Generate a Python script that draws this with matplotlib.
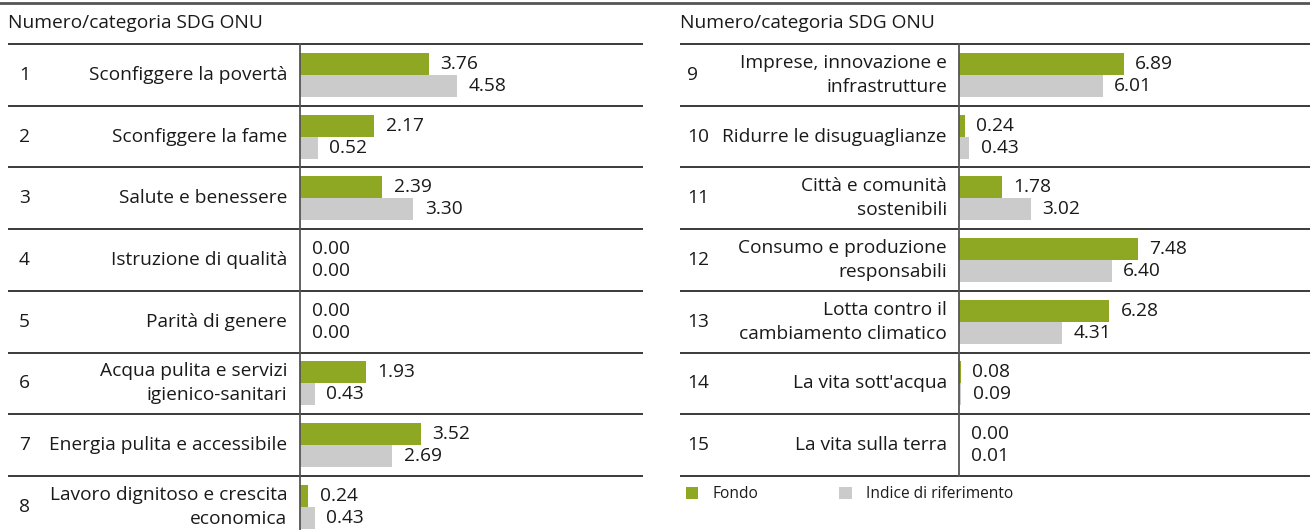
import numpy as np
import matplotlib
matplotlib.use('Agg')
import matplotlib.pyplot as plt
import matplotlib.transforms as mtransforms
from matplotlib.lines import Line2D
from matplotlib.patches import Patch

plt.rcParams['font.family'] = ['Open Sans', 'DejaVu Sans']

# data
left_nums = ['1', '2', '3', '4', '5', '6', '7', '8']
left_cats = ['Sconfiggere la povertà', 'Sconfiggere la fame', 'Salute e benessere',
             'Istruzione di qualità', 'Parità di genere',
             'Acqua pulita e servizi\nigienico-sanitari', 'Energia pulita e accessibile',
             'Lavoro dignitoso e crescita\neconomica']
left_fondo = [3.76, 2.17, 2.39, 0.00, 0.00, 1.93, 3.52, 0.24]
left_indice = [4.58, 0.52, 3.30, 0.00, 0.00, 0.43, 2.69, 0.43]

right_nums = ['9', '10', '11', '12', '13', '14', '15']
right_cats = ['Imprese, innovazione e\ninfrastrutture', 'Ridurre le disuguaglianze',
              'Città e comunità\nsostenibili', 'Consumo e produzione\nresponsabili',
              'Lotta contro il\ncambiamento climatico', "La vita sott'acqua",
              'La vita sulla terra']
right_fondo = [6.89, 0.24, 1.78, 7.48, 6.28, 0.08, 0.00]
right_indice = [6.01, 0.43, 3.02, 6.40, 4.31, 0.09, 0.01]

header = 'Numero/categoria SDG ONU'
legend_labels = ['Fondo', 'Indice di riferimento']

GREEN = '#8ea824'
GREY = '#cbcbcb'
LINE = '#2b2b2b'
TXT = '#1a1a1a'
FS = 13.8

W, H = 1310, 530
fig = plt.figure(figsize=(W / 100, H / 100), dpi=100)

ROW = 61.7  # px per row
TOP = 44    # px, first row line


def panel(x_axis, x_right, x_line0, x_num, x_cat, nums, cats, fondo, indice, xmax, nrows):
    bottom_px = TOP + nrows * ROW
    ax = fig.add_axes([x_axis / W, 1 - bottom_px / H, (x_right - x_axis) / W, (bottom_px - TOP) / H])
    y = np.arange(len(nums))
    h = 22 / ROW
    ax.barh(y - h / 2, fondo, height=h, color=GREEN)
    ax.barh(y + h / 2, indice, height=h, color=GREY)
    ax.set_xlim(0, xmax)
    ax.set_ylim(nrows - 0.5, -0.5)
    for s in ['top', 'right', 'bottom']:
        ax.spines[s].set_visible(False)
    ax.spines['left'].set_color('#555555')
    ax.spines['left'].set_linewidth(1.3)
    ax.set_xticks([])
    ax.set_yticks([])

    for i in range(len(nums)):
        ax.annotate(f'{fondo[i]:.2f}', (fondo[i], y[i] - h / 2), xytext=(8.3, 0),
                    textcoords='offset points', va='center', ha='left', fontsize=FS, color=TXT)
        ax.annotate(f'{indice[i]:.2f}', (indice[i], y[i] + h / 2), xytext=(8.3, 0),
                    textcoords='offset points', va='center', ha='left', fontsize=FS, color=TXT)

    tr = mtransforms.blended_transform_factory(fig.transFigure, ax.transData)
    for i in range(len(nums)):
        ax.text(x_num / W, y[i], nums[i], transform=tr, ha='left', va='center',
                fontsize=FS, color=TXT)
        ax.text(x_cat / W, y[i], cats[i], transform=tr, ha='right', va='center',
                fontsize=FS, color=TXT, linespacing=1.42, multialignment='right')

    # row separators
    x0 = (x_line0 - x_axis) / (x_right - x_axis)
    ltr = mtransforms.blended_transform_factory(ax.transAxes, ax.transData)
    for k in range(len(nums) + 1):
        yl = k - 0.5
        if yl < nrows - 0.5 or nrows == len(nums):
            ax.plot([x0, 1], [yl, yl], transform=ltr, color=LINE, lw=1.3,
                    clip_on=False, solid_capstyle='butt')

    fig.text(x_line0 / W, 1 - 23.5 / H, header, ha='left', va='center', fontsize=FS, color=TXT)
    return ax


panel(300, 643, 8, 19, 287, left_nums, left_cats, left_fondo, left_indice, 10.0, 8)
panel(959, 1310, 680, 687, 947, right_nums, right_cats, right_fondo, right_indice, 14.7, 7)

# top rule
fig.add_artist(Line2D([0, 1], [1 - 2.5 / H] * 2, transform=fig.transFigure, color='#555555', lw=2))

handles = [Patch(facecolor=GREEN, edgecolor='none'), Patch(facecolor=GREY, edgecolor='none')]
fig.legend(handles, legend_labels, loc='center left', bbox_to_anchor=(686 / W, 1 - 494.5 / H),
           ncol=2, frameon=False, fontsize=11.2, handlelength=0.8, handleheight=0.8,
           handletextpad=0.9, columnspacing=5.2, borderaxespad=0, borderpad=0,
           labelcolor=TXT)

fig.savefig('out.png', dpi=100)
